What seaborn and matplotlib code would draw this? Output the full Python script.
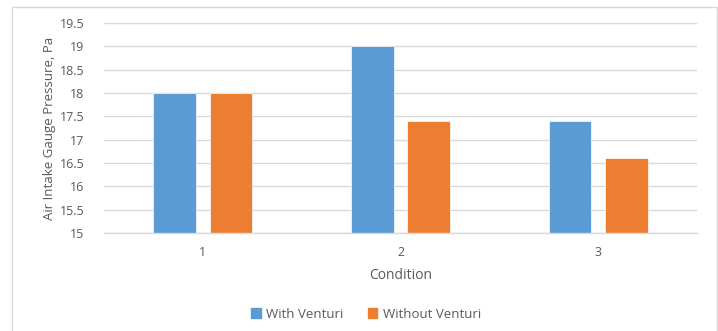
import matplotlib
matplotlib.use("Agg")
import matplotlib.pyplot as plt
import matplotlib.patches as mpatches
import seaborn as sns
import pandas as pd

conditions = ["1", "2", "3"]
with_venturi = [18.0, 19.0, 17.4]
without_venturi = [18.0, 17.4, 16.6]
series_names = ["With Venturi", "Without Venturi"]
y_ticks = [15, 15.5, 16, 16.5, 17, 17.5, 18, 18.5, 19, 19.5]
y_tick_labels = ["15", "15.5", "16", "16.5", "17", "17.5", "18", "18.5", "19", "19.5"]

df = pd.DataFrame({
    "Condition": conditions * 2,
    "Pressure": with_venturi + without_venturi,
    "Series": [series_names[0]] * 3 + [series_names[1]] * 3,
})

sns.set_theme(style="white")
plt.rcParams["font.family"] = ["Open Sans", "DejaVu Sans"]
text_color = "#595959"
grid_color = "#d9d9d9"
palette = {"With Venturi": "#5B9BD5", "Without Venturi": "#ED7D31"}

W, H = 718, 331
fig = plt.figure(figsize=(W / 100, H / 100), dpi=100)
fig.patch.set_facecolor("white")

# outer chart frame
frame = mpatches.Rectangle((12 / W, -0.05), (717 - 12) / W, 1.05 - 7 / H,
                           transform=fig.transFigure, fill=False,
                           edgecolor=grid_color, linewidth=1.0)
fig.patches.append(frame)

ax = fig.add_axes([104 / W, 1 - 233 / H, (697 - 104) / W, (233 - 23) / H])
sns.barplot(data=df, x="Condition", y="Pressure", hue="Series", palette=palette,
            width=0.573, gap=0.246, ax=ax, legend=False, saturation=1,
            edgecolor="white", linewidth=0.5)

ax.set_ylim(15, 19.5)
ax.set_xlim(-0.5, 2.5)
ax.set_yticks(y_ticks)
ax.set_yticklabels(y_tick_labels)
ax.yaxis.grid(True, color=grid_color, linewidth=1.0)
ax.set_axisbelow(True)
for side in ["left", "right", "top"]:
    ax.spines[side].set_visible(False)
ax.spines["bottom"].set_color(grid_color)
ax.spines["bottom"].set_linewidth(1.0)
ax.tick_params(axis="both", length=0, labelsize=9, colors=text_color)
ax.tick_params(axis="x", pad=9)
ax.tick_params(axis="y", pad=14)

ax.set_xlabel("Condition", fontsize=10, color=text_color, labelpad=7)
ax.set_ylabel("Air Intake Gauge Pressure, Pa", fontsize=9.5, color=text_color, labelpad=3)

handles = [mpatches.Patch(color=palette[n], label=n) for n in series_names]
fig.legend(handles=handles, loc="center", bbox_to_anchor=(366 / W, 1 - 314 / H),
           ncol=2, frameon=False, fontsize=9.5, labelcolor=text_color,
           handlelength=0.7, handleheight=0.7, handletextpad=0.4, columnspacing=1.9)

fig.savefig("out.png", dpi=100)
